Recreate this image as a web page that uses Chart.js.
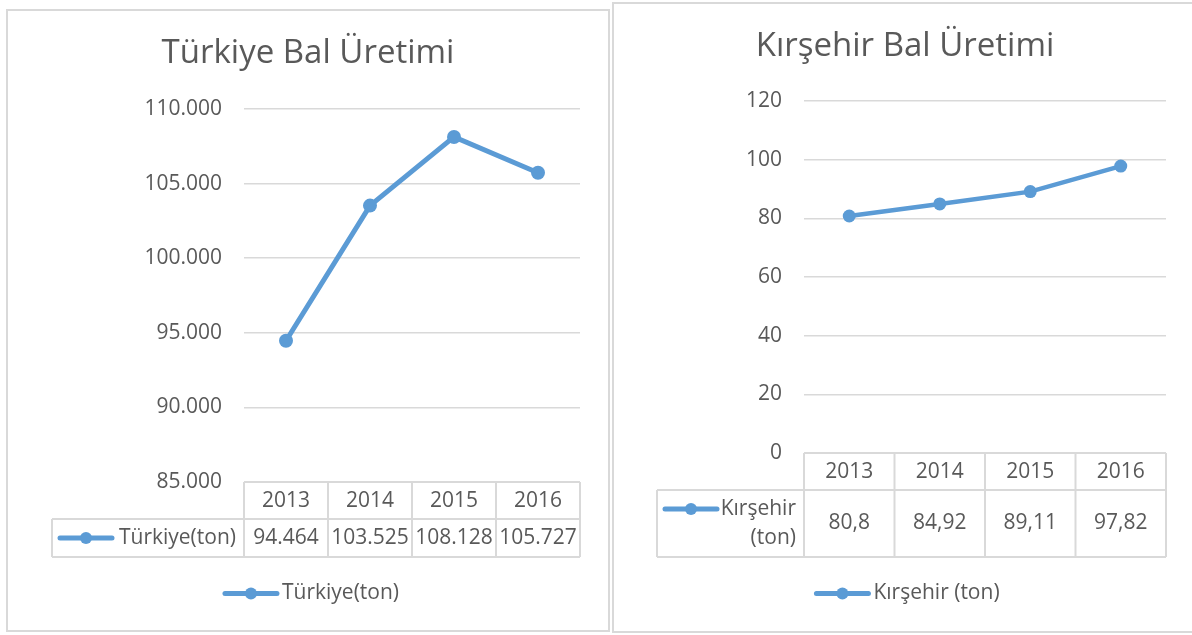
<!DOCTYPE html>
<html>
<head>
<meta charset="utf-8">
<script src="https://cdn.jsdelivr.net/npm/chart.js@4.4.0/dist/chart.umd.min.js"></script>
<style>
  html, body { margin: 0; padding: 0; background: #fff; overflow: hidden; width: 1192px; height: 635px; }
  .box { position: absolute; border: 2px solid #d9d9d9; box-sizing: border-box; background: #fff; }
  .box canvas { display: block; }
</style>
</head>
<body>
<div class="box" style="left:6px;top:9px;width:604px;height:623px"><canvas id="chart-turkiye" width="600" height="619"></canvas></div>
<div class="box" style="left:612px;top:2px;width:584px;height:631px"><canvas id="chart-kirsehir" width="580" height="627"></canvas></div>
<script>
// data
const years = ["2013", "2014", "2015", "2016"];
const turkiyeValues = [94464, 103525, 108128, 105727];
const kirsehirValues = [80.8, 84.92, 89.11, 97.82];
const turkiyeTicks = [85000, 90000, 95000, 100000, 105000, 110000];
const kirsehirTicks = [0, 20, 40, 60, 80, 100, 120];

const BLUE = "#5b9bd5";
const TEXT = "#595959";
const RULE = "#d9d9d9";
const FONT = "'Open Sans', Lato, sans-serif";

// 94464 -> "94.464", 80.8 -> "80,8"
function fmtThousands(v) {
  return String(Math.round(v)).replace(/\B(?=(\d{3})+(?!\d))/g, ".");
}
function fmtDecimal(v) {
  return String(v).replace(".", ",");
}

function drawKey(ctx, x, y, len) {
  ctx.save();
  ctx.strokeStyle = BLUE;
  ctx.lineWidth = 5;
  ctx.lineCap = "round";
  ctx.beginPath();
  ctx.moveTo(x + 2, y);
  ctx.lineTo(x + len - 2, y);
  ctx.stroke();
  ctx.fillStyle = BLUE;
  ctx.beginPath();
  ctx.arc(x + len / 2, y, 6, 0, Math.PI * 2);
  ctx.fill();
  ctx.restore();
}

// title, data table under the plot and the legend line, Excel style
const excelExtras = {
  id: "excelExtras",
  afterDraw(chart, args, o) {
    const ctx = chart.ctx;
    const a = chart.chartArea;
    const x = chart.scales.x;
    const band = x.getPixelForValue(1) - x.getPixelForValue(0);
    const edges = years.map((_, i) => x.getPixelForValue(i) - band / 2).concat([a.right]);
    const top = a.bottom, mid = a.bottom + o.headH, bot = mid + o.rowH;
    const cellLeft = a.left - o.labelW;

    ctx.save();
    // title
    ctx.fillStyle = TEXT;
    ctx.font = "33px " + FONT;
    ctx.textAlign = "center";
    ctx.textBaseline = "middle";
    ctx.fillText(o.title, chart.width / 2 + o.titleDx, 43);

    // table lines
    ctx.strokeStyle = RULE;
    ctx.lineWidth = 2;
    ctx.beginPath();
    ctx.moveTo(a.left, top); ctx.lineTo(a.right, top);
    ctx.moveTo(cellLeft, mid); ctx.lineTo(a.right, mid);
    ctx.moveTo(cellLeft, bot); ctx.lineTo(a.right, bot);
    edges.forEach((e) => { ctx.moveTo(e, top); ctx.lineTo(e, bot); });
    ctx.moveTo(cellLeft, mid); ctx.lineTo(cellLeft, bot);
    ctx.stroke();

    // table text
    ctx.font = "21px " + FONT;
    ctx.fillStyle = TEXT;
    ctx.textAlign = "center";
    years.forEach((y, i) => {
      const cx = x.getPixelForValue(i);
      ctx.fillText(y, cx, (top + mid) / 2 + 1);
      ctx.fillText(o.fmt(chart.data.datasets[0].data[i]), cx, (mid + bot) / 2);
    });

    // row label with key
    const n = o.labelLines.length;
    const rowMid = (mid + bot) / 2;
    ctx.textAlign = "right";
    o.labelLines.forEach((t, i) => {
      ctx.fillText(t, a.left - 8, rowMid + (i - (n - 1) / 2) * 29);
    });
    drawKey(ctx, cellLeft + 6, rowMid - (n - 1) / 2 * 29, 56);

    // legend
    const legendText = chart.data.datasets[0].label;
    const tw = ctx.measureText(legendText).width;
    const total = 56 + 3 + tw;
    const lx = chart.width / 2 + 3 - total / 2;
    const ly = bot + 36.5;
    drawKey(ctx, lx, ly, 56);
    ctx.textAlign = "left";
    ctx.fillText(legendText, lx + 59, ly);
    ctx.restore();
  }
};

function makeChart(id, label, values, ticks, fmt, lay) {
  const ctx = document.getElementById(id).getContext("2d");
  return new Chart(ctx, {
    type: "line",
    data: {
      labels: years,
      datasets: [{
        label: label,
        data: values,
        borderColor: BLUE,
        backgroundColor: BLUE,
        borderWidth: lay.lineW,
        pointRadius: lay.pointR,
        pointBorderWidth: 0,
        pointBackgroundColor: BLUE,
        tension: 0
      }]
    },
    options: {
      responsive: false,
      animation: false,
      layout: { padding: { top: lay.top, bottom: lay.bottom, left: 0, right: lay.right } },
      plugins: {
        legend: { display: false },
        tooltip: { enabled: false },
        excelExtras: lay.extras
      },
      scales: {
        x: { type: "category", offset: true, display: false },
        y: {
          min: ticks[0],
          max: ticks[ticks.length - 1],
          afterFit: (s) => { s.width = lay.axisW; },
          afterBuildTicks: (s) => { s.ticks = ticks.map((v) => ({ value: v })); },
          border: { display: false },
          grid: { color: RULE, lineWidth: 1.5, drawTicks: false },
          ticks: {
            padding: lay.tickPad,
            color: TEXT,
            font: { family: FONT, size: 21 },
            callback: (v) => fmt(v)
          }
        }
      }
    },
    plugins: [excelExtras]
  });
}

makeChart("chart-turkiye", "Türkiye(ton)", turkiyeValues, turkiyeTicks, fmtThousands, {
  top: 98, bottom: 148, right: 28, axisW: 236, tickPad: 22, lineW: 5, pointR: 7,
  extras: { title: "Türkiye Bal Üretimi", titleDx: 0, headH: 37, rowH: 38, labelW: 192,
            labelLines: ["Türkiye(ton)"], fmt: fmtThousands }
});

makeChart("chart-kirsehir", "Kırşehir (ton)", kirsehirValues, kirsehirTicks, (v) => String(v), {
  top: 97, bottom: 178, right: 28, axisW: 190, tickPad: 22, lineW: 4.5, pointR: 6.5,
  extras: { title: "Kırşehir Bal Üretimi", titleDx: 1, headH: 37, rowH: 67, labelW: 147,
            labelLines: ["Kırşehir", "(ton)"], fmt: fmtDecimal }
});
</script>
</body>
</html>
